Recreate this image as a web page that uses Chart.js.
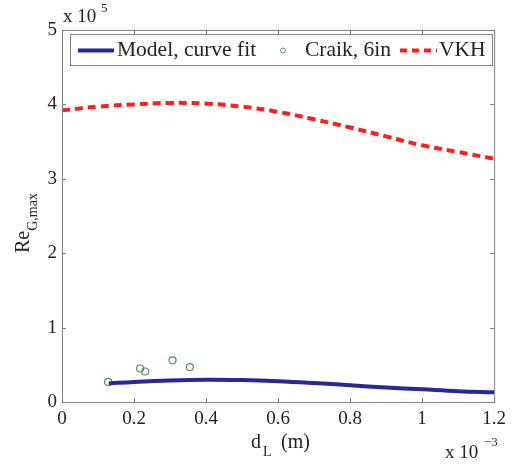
<!DOCTYPE html>
<html>
<head>
<meta charset="utf-8">
<script src="https://cdn.jsdelivr.net/npm/chart.js@4.4.0/dist/chart.umd.min.js"></script>
<style>
  html, body { margin: 0; padding: 0; background: #fff; }
  #wrap { width: 512px; height: 465px; }
</style>
</head>
<body>
<div id="wrap"><canvas id="chart" width="512" height="465"></canvas></div>
<script>
// x in units of 1e-3 m, y in units of 1e5
const modelX = [0.13, 0.2, 0.3, 0.4, 0.5, 0.6, 0.7, 0.8, 0.9, 1.0, 1.1, 1.2];
const modelY = [0.25, 0.27, 0.29, 0.30, 0.295, 0.28, 0.255, 0.225, 0.195, 0.17, 0.145, 0.13];

const craikX = [0.128, 0.217, 0.231, 0.307, 0.355];
const craikY = [0.27, 0.45, 0.41, 0.56, 0.47];

const vkhX = [0, 0.1, 0.2, 0.3, 0.4, 0.5, 0.6, 0.7, 0.8, 0.9, 1.0, 1.1, 1.2];
const vkhY = [3.92, 3.97, 4.0, 4.02, 4.01, 3.97, 3.90, 3.80, 3.69, 3.57, 3.45, 3.36, 3.27];

const xTicks = [0, 0.2, 0.4, 0.6, 0.8, 1, 1.2];
const yTicks = [0, 1, 2, 3, 4, 5];

const FONT = "'Liberation Serif', 'DejaVu Serif', serif";
const BLUE = 'rgb(40,40,150)';
const RED = 'rgb(255,30,30)';
const GREEN = 'rgb(80,145,90)';
const TXT = '#222';

const pts = (xs, ys) => xs.map((x, i) => ({ x: x, y: ys[i] }));

// box, inward ticks, legend and axis titles (MATLAB look)
const decor = {
  id: 'decor',
  afterDatasetsDraw(chart) {
    const { ctx, chartArea: a, scales } = chart;
    ctx.save();
    ctx.strokeStyle = '#808080';
    ctx.lineWidth = 1;
    ctx.strokeRect(a.left + 0.5, a.top + 0.5, a.right - a.left, a.bottom - a.top);
    ctx.beginPath();
    xTicks.forEach(v => {
      const px = Math.round(scales.x.getPixelForValue(v)) + 0.5;
      ctx.moveTo(px, a.bottom); ctx.lineTo(px, a.bottom - 4);
      ctx.moveTo(px, a.top); ctx.lineTo(px, a.top + 4);
    });
    yTicks.forEach(v => {
      const py = Math.round(scales.y.getPixelForValue(v)) + 0.5;
      ctx.moveTo(a.left, py); ctx.lineTo(a.left + 4, py);
      ctx.moveTo(a.right, py); ctx.lineTo(a.right - 4, py);
    });
    ctx.stroke();

    // legend
    const lx = 70, ly = 34, lw = 422, lh = 31, my = ly + lh / 2 + 1;
    ctx.fillStyle = '#fff';
    ctx.fillRect(lx, ly, lw, lh);
    ctx.strokeStyle = '#808080';
    ctx.strokeRect(lx + 0.5, ly + 0.5, lw, lh);
    ctx.font = '21.5px ' + FONT;
    ctx.fillStyle = TXT;
    ctx.textBaseline = 'middle';
    ctx.textAlign = 'left';
    ctx.lineWidth = 4;
    ctx.strokeStyle = BLUE;
    ctx.beginPath(); ctx.moveTo(78, my); ctx.lineTo(114, my); ctx.stroke();
    ctx.fillText('Model, curve fit', 117, my);
    ctx.lineWidth = 1;
    ctx.strokeStyle = GREEN;
    ctx.beginPath(); ctx.arc(283, my, 2.5, 0, Math.PI * 2); ctx.stroke();
    ctx.fillText('Craik, 6in', 305, my);
    ctx.lineWidth = 4;
    ctx.strokeStyle = RED;
    ctx.setLineDash([7, 5]);
    ctx.beginPath(); ctx.moveTo(400, my); ctx.lineTo(437, my); ctx.stroke();
    ctx.setLineDash([]);
    ctx.fillText('VKH', 439, my);

    // exponent labels
    ctx.textBaseline = 'alphabetic';
    ctx.font = '19px ' + FONT;
    ctx.fillText('x 10', 63, 22);
    ctx.font = '13px ' + FONT;
    ctx.fillText('5', 101, 12);
    ctx.font = '19px ' + FONT;
    ctx.fillText('x 10', 445, 458);
    ctx.font = '13px ' + FONT;
    ctx.fillText('\u22123', 484, 446);

    // x title
    ctx.font = '20px ' + FONT;
    ctx.fillText('d', 251, 448);
    ctx.font = '14px ' + FONT;
    ctx.fillText('L', 263, 456);
    ctx.font = '20px ' + FONT;
    ctx.fillText('(m)', 281, 448);

    // y title
    ctx.translate(29, 253);
    ctx.rotate(-Math.PI / 2);
    ctx.font = '20px ' + FONT;
    ctx.fillText('Re', 0, 0);
    const w = ctx.measureText('Re').width;
    ctx.font = '14px ' + FONT;
    ctx.fillText('G,max', w, 8);
    ctx.restore();
  }
};

new Chart(document.getElementById('chart').getContext('2d'), {
  type: 'scatter',
  data: {
    datasets: [
      {
        label: 'Model, curve fit',
        type: 'line',
        data: pts(modelX, modelY),
        borderColor: BLUE,
        borderWidth: 4,
        pointRadius: 0,
        tension: 0.4,
        fill: false
      },
      {
        label: 'Craik, 6in',
        data: pts(craikX, craikY),
        borderColor: GREEN,
        backgroundColor: 'rgba(0,0,0,0)',
        borderWidth: 1.2,
        pointRadius: 3.5
      },
      {
        label: 'VKH',
        type: 'line',
        data: pts(vkhX, vkhY),
        borderColor: RED,
        borderWidth: 4,
        borderDash: [8, 5],
        pointRadius: 0,
        tension: 0.4,
        fill: false
      }
    ]
  },
  options: {
    responsive: false,
    animation: false,
    layout: { padding: { left: 0, right: 15, top: 30, bottom: 0 } },
    plugins: { legend: { display: false }, tooltip: { enabled: false } },
    scales: {
      x: {
        type: 'linear',
        min: 0, max: 1.2,
        afterBuildTicks: s => { s.ticks = xTicks.map(v => ({ value: v })); },
        afterFit: s => { s.height = 63; },
        grid: { display: false, drawTicks: false },
        border: { display: false },
        ticks: {
          color: TXT,
          font: { family: FONT, size: 19 },
          padding: 6,
          maxRotation: 0,
          callback: v => String(Number(v.toFixed(1)))
        }
      },
      y: {
        type: 'linear',
        min: 0, max: 5,
        afterBuildTicks: s => { s.ticks = yTicks.map(v => ({ value: v })); },
        afterFit: s => { s.width = 62; },
        grid: { display: false, drawTicks: false },
        border: { display: false },
        ticks: {
          color: TXT,
          font: { family: FONT, size: 19 },
          padding: 5
        }
      }
    }
  },
  plugins: [decor]
});
</script>
</body>
</html>
